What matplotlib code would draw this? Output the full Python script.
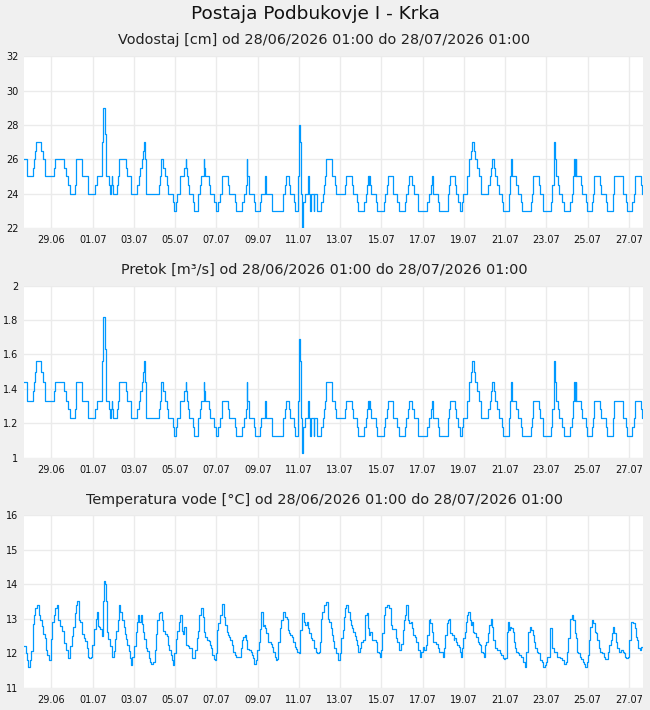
import numpy as np
import matplotlib
matplotlib.use('Agg')
import matplotlib.pyplot as plt

# hours since 28/06/2026 01:00 -> water level [cm] (step changes)
level_steps = [
    (0, 26), (3, 25.5), (4, 25), (11, 25.5), (12, 26), (13, 26.5), (14, 27), (20, 26.5), (22, 26), (25, 25),
    (35, 25.5), (36, 26), (47, 25.5), (49, 25), (51, 24.5), (53, 24), (59, 24.5), (60, 25), (61, 26), (67, 25.5),
    (68, 25), (75, 24), (83, 24.5), (85, 25), (91, 27), (92, 29), (94, 27.5), (95, 26), (96, 25), (99, 24.5),
    (100, 24), (101, 24.5), (102, 25), (103, 24.5), (104, 24), (108, 24.5), (109, 25), (110, 26), (119, 25.5),
    (120, 25), (125, 24), (132, 24.5), (134, 25), (135, 25.5), (137, 26), (139, 26.5), (140, 27), (141, 26),
    (142, 24), (157, 24.5), (158, 25), (160, 26), (162, 25.5), (164, 25), (167, 24.5), (168, 24), (174, 23.5),
    (175, 23), (177, 23.5), (178, 24), (182, 25), (186, 25.5), (188, 26), (189, 25.5), (190, 25), (191, 24.5),
    (192, 24), (197, 23.5), (198, 23), (202, 23.5), (203, 24), (205, 24.5), (206, 25), (209, 26), (210, 25.5),
    (211, 25), (215, 24.5), (216, 24), (221, 23.5), (223, 23), (226, 23.5), (228, 24), (230, 25), (238, 24.5),
    (239, 24), (245, 23.5), (247, 23), (254, 23.5), (256, 24), (258, 24.5), (259, 26), (260, 25), (262, 24),
    (268, 23.5), (269, 23), (275, 23.5), (276, 24), (280, 24.5), (281, 25), (282, 24), (289, 23), (301, 23.5),
    (302, 24), (304, 24.5), (305, 25), (309, 24.5), (310, 24), (314, 23.5), (315, 23), (319, 25), (320, 28),
    (321, 27), (322, 24), (323, 22), (325, 23.5), (327, 24), (330, 24.5), (331, 25), (332, 24), (333, 23),
    (334, 24), (337, 23), (338, 24), (341, 23), (346, 23.5), (348, 24), (349, 24.5), (350, 25), (352, 26),
    (358, 25.5), (359, 25), (362, 24.5), (363, 24), (374, 24.5), (375, 25), (382, 24.5), (383, 24), (388, 23.5),
    (389, 23), (396, 23.5), (398, 24), (399, 24.5), (400, 25), (401, 24.5), (402, 25), (403, 24.5), (404, 24),
    (410, 23.5), (411, 23), (419, 23.5), (420, 24), (422, 24.5), (424, 25), (429, 24.5), (430, 24), (434, 23.5),
    (436, 23), (443, 23.5), (445, 24), (447, 24.5), (448, 25), (452, 24.5), (454, 24), (458, 23.5), (459, 23),
    (469, 23.5), (471, 24), (474, 24.5), (475, 25), (476, 24), (482, 23.5), (483, 23), (493, 23.5), (494, 24),
    (495, 24.5), (496, 25), (502, 24.5), (503, 24), (505, 23.5), (507, 23), (510, 23.5), (511, 24), (515, 24.5),
    (516, 25), (518, 26), (520, 26.5), (521, 27), (524, 26.5), (525, 26), (527, 25.5), (529, 25), (532, 24),
    (540, 24.5), (542, 25), (544, 25.5), (545, 26), (547, 25.5), (548, 25), (551, 24.5), (553, 24), (556, 23.5),
    (558, 23), (564, 23.5), (565, 24), (566, 25), (567, 26), (568, 25), (573, 24.5), (575, 24), (579, 23.5),
    (580, 23), (590, 23.5), (591, 24), (592, 25), (599, 24.5), (600, 24), (604, 23), (613, 23.5), (614, 24),
    (615, 24.5), (617, 27), (618, 26), (619, 25), (622, 24.5), (623, 24), (626, 23.5), (628, 23), (636, 23.5),
    (638, 24), (639, 25), (640, 26), (641, 25), (642, 26), (643, 25), (648, 24.5), (649, 24), (654, 23.5),
    (655, 23), (661, 23.5), (662, 24), (663, 25), (670, 24.5), (672, 24), (677, 23.5), (678, 23), (686, 24),
    (687, 25), (697, 24), (701, 23.5), (702, 23), (708, 23.5), (710, 24), (711, 25), (718, 24.5), (719, 24),
]

# rating: level [cm] -> flow [m3/s]
rating_level = [22, 22.5, 23, 23.5, 24, 24.5, 25, 25.5, 26, 26.5, 27, 27.5, 28, 29]
rating_flow = [1.03, 1.08, 1.125, 1.18, 1.23, 1.28, 1.33, 1.385, 1.44, 1.50, 1.56, 1.63, 1.69, 1.82]

# hours since start -> water temperature [°C]
temp_points = [
    (0, 12.2), (2, 12.0), (4, 11.8), (5, 11.6), (7, 11.8), (8, 12.05), (10, 12.85), (12, 13.1), (13, 13.3),
    (15, 13.4), (18, 13.1), (19, 12.95), (21, 12.8), (22, 12.55), (24, 12.45), (26, 12.1), (27, 11.95),
    (29, 11.8), (31, 11.8), (32, 12.4), (33, 12.9), (35, 13.1), (36, 13.3), (39, 13.4), (40, 12.95), (42, 12.8),
    (44, 12.65), (46, 12.5), (47, 12.3), (49, 12.1), (51, 11.85), (53, 12.0), (54, 12.2), (56, 12.5), (57, 12.75),
    (59, 13.15), (60, 13.4), (62, 13.5), (64, 12.95), (65, 12.9), (67, 12.7), (68, 12.55), (70, 12.45),
    (71, 12.35), (73, 12.15), (74, 11.9), (76, 11.85), (78, 11.9), (79, 12.25), (81, 12.5), (82, 12.7),
    (84, 13.0), (85, 13.2), (86, 12.8), (87, 12.75), (88, 12.7), (90, 12.7), (91, 12.5), (92, 13.5), (93, 14.1),
    (94, 14.0), (95, 13.5), (97, 12.6), (98, 12.4), (100, 12.2), (102, 12.0), (103, 11.9), (105, 12.05),
    (106, 12.4), (107, 12.65), (109, 12.95), (110, 13.2), (111, 13.4), (112, 13.2), (114, 12.95), (116, 12.75),
    (117, 12.55), (119, 12.4), (120, 12.25), (122, 12.05), (123, 11.85), (125, 11.65), (126, 11.9), (128, 12.2),
    (130, 12.6), (131, 12.9), (133, 13.1), (134, 12.9), (136, 13.1), (137, 12.85), (139, 12.6), (140, 12.4),
    (142, 12.15), (143, 12.05), (145, 11.85), (147, 11.75), (148, 11.7), (150, 11.75), (152, 12.1), (154, 12.55),
    (155, 12.95), (157, 13.15), (158, 13.2), (161, 12.95), (162, 12.65), (164, 12.55), (166, 12.5), (168, 12.25),
    (169, 12.1), (171, 11.95), (172, 11.8), (174, 11.65), (175, 12.0), (177, 12.4), (178, 12.65), (180, 12.9),
    (181, 13.05), (182, 13.1), (184, 12.65), (185, 12.55), (186, 12.75), (188, 12.5), (189, 12.25), (191, 12.2),
    (192, 12.15), (195, 12.1), (196, 11.85), (198, 11.85), (199, 12.1), (201, 12.45), (202, 12.65), (204, 13.1),
    (206, 13.3), (208, 13.05), (209, 12.62), (211, 12.48), (213, 12.38), (215, 12.35), (216, 12.24),
    (218, 12.16), (219, 11.95), (221, 11.83), (222, 11.8), (223, 12.0), (225, 12.67), (226, 12.86), (228, 13.1),
    (230, 13.3), (231, 13.42), (233, 13.06), (234, 12.81), (236, 12.62), (237, 12.52), (239, 12.48),
    (240, 12.38), (242, 12.24), (243, 12.04), (245, 11.95), (247, 11.9), (251, 11.9), (252, 12.14), (254, 12.38),
    (255, 12.48), (257, 12.52), (258, 12.38), (260, 12.12), (262, 12.09), (264, 12.04), (265, 11.95),
    (267, 11.85), (268, 11.68), (270, 11.8), (271, 12.09), (273, 12.33), (275, 12.7), (276, 13.2), (278, 12.8),
    (279, 12.81), (281, 12.72), (282, 12.57), (284, 12.33), (285, 12.31), (287, 12.28), (289, 12.19),
    (290, 12.04), (292, 11.9), (293, 11.8), (295, 11.83), (296, 12.33), (298, 12.72), (299, 12.96), (301, 13.0),
    (302, 13.2), (304, 13.06), (306, 13.0), (307, 12.67), (309, 12.57), (310, 12.52), (312, 12.48), (313, 12.33),
    (315, 12.19), (316, 12.12), (318, 12.04), (320, 12.0), (321, 12.67), (323, 13.0), (324, 13.15), (326, 12.91),
    (327, 12.81), (329, 12.91), (330, 12.72), (332, 12.57), (334, 12.43), (335, 12.38), (337, 12.24),
    (338, 12.14), (340, 12.04), (341, 12.0), (343, 12.04), (344, 12.33), (346, 13.0), (347, 13.2), (349, 13.39),
    (351, 13.44), (352, 13.49), (354, 13.0), (355, 12.91), (357, 12.72), (358, 12.52), (360, 12.35),
    (361, 12.14), (363, 12.0), (365, 11.85), (366, 11.8), (368, 12.0), (369, 12.43), (371, 12.67), (372, 13.06),
    (374, 13.3), (375, 13.39), (377, 13.2), (379, 12.96), (380, 12.81), (382, 12.72), (383, 12.62), (385, 12.5),
    (386, 12.38), (388, 12.24), (389, 12.04), (391, 12.14), (392, 12.33), (394, 12.38), (396, 12.38),
    (397, 13.1), (399, 13.15), (400, 12.72), (402, 12.52), (403, 12.62), (405, 12.38), (408, 12.38),
    (410, 12.33), (411, 12.04), (413, 12.0), (414, 11.9), (416, 12.09), (417, 12.57), (419, 13.1), (420, 13.35),
    (422, 13.39), (424, 13.39), (425, 13.3), (427, 12.81), (428, 12.7), (431, 12.7), (433, 12.43), (434, 12.33),
    (436, 12.28), (437, 12.09), (439, 12.28), (441, 12.67), (442, 12.96), (444, 13.1), (445, 13.39),
    (447, 12.96), (448, 12.86), (450, 12.91), (451, 12.72), (453, 12.52), (455, 12.48), (456, 12.33),
    (458, 12.28), (459, 12.09), (461, 11.9), (462, 12.04), (464, 12.19), (465, 12.09), (468, 12.24),
    (469, 12.52), (471, 12.96), (472, 13.0), (473, 12.86), (475, 12.62), (476, 12.33), (479, 12.33),
    (480, 12.28), (482, 12.14), (483, 12.04), (486, 12.02), (488, 11.9), (489, 12.14), (490, 12.52),
    (492, 12.86), (493, 12.96), (495, 13.0), (496, 12.57), (498, 12.52), (500, 12.38), (501, 12.43),
    (503, 12.31), (504, 12.24), (506, 12.19), (507, 12.04), (509, 11.9), (510, 12.14), (511, 12.43),
    (513, 12.62), (514, 12.91), (516, 13.1), (517, 13.2), (519, 12.96), (520, 12.81), (521, 12.91), (523, 12.62),
    (524, 12.57), (526, 12.48), (528, 12.33), (529, 12.28), (531, 12.24), (532, 12.04), (534, 12.0), (535, 11.9),
    (537, 12.24), (538, 12.33), (540, 12.57), (541, 12.81), (543, 13.0), (545, 12.77), (546, 12.38),
    (548, 12.14), (551, 12.09), (554, 12.0), (555, 11.95), (557, 11.85), (559, 11.83), (560, 11.85),
    (562, 12.62), (563, 12.91), (564, 12.67), (566, 12.77), (567, 12.72), (569, 12.62), (570, 12.33),
    (572, 12.14), (573, 12.04), (575, 12.0), (576, 11.95), (578, 11.9), (580, 11.9), (581, 11.75), (583, 11.61),
    (584, 12.04), (586, 12.33), (587, 12.62), (589, 12.77), (590, 12.67), (592, 12.52), (593, 12.33),
    (595, 12.14), (597, 12.04), (598, 12.0), (600, 11.9), (601, 11.8), (603, 11.75), (604, 11.61), (606, 11.66),
    (607, 11.75), (609, 11.9), (610, 11.9), (612, 12.72), (614, 12.38), (615, 12.14), (617, 12.04), (618, 12.04),
    (620, 11.9), (623, 11.9), (624, 11.85), (626, 11.8), (628, 11.7), (629, 11.68), (631, 11.75), (632, 12.04),
    (633, 12.43), (635, 12.81), (636, 13.0), (638, 13.1), (639, 12.96), (641, 12.57), (642, 12.43), (644, 12.04),
    (645, 12.0), (647, 11.9), (648, 11.83), (650, 11.75), (652, 11.7), (653, 11.61), (655, 11.75), (656, 11.95),
    (658, 12.38), (659, 12.77), (661, 12.96), (662, 12.86), (664, 12.62), (666, 12.57), (667, 12.38),
    (669, 12.14), (670, 12.04), (673, 12.0), (675, 11.9), (676, 11.83), (678, 11.83), (680, 12.04), (681, 12.24),
    (683, 12.38), (684, 12.57), (686, 12.77), (687, 12.57), (689, 12.33), (690, 12.14), (692, 12.04),
    (695, 12.09), (697, 12.04), (698, 12.0), (700, 11.9), (701, 11.85), (703, 11.9), (704, 12.38), (706, 12.81),
    (707, 12.91), (709, 12.86), (711, 12.72), (712, 12.48), (714, 12.38), (715, 12.14), (717, 12.09),
    (718, 12.19), (720, 12.14),
]

tick_labels = ['29.06', '01.07', '03.07', '05.07', '07.07', '09.07', '11.07', '13.07',
               '15.07', '17.07', '19.07', '21.07', '23.07', '25.07', '27.07']
total_hours = 720
first_tick = 32   # 29.06 gridline, hours from start

title = 'Postaja Podbukovje I - Krka'
period = 'od 28/06/2026 01:00 do 28/07/2026 01:00'

bg = '#f0f0f0'
line_col = '#0099ff'
grid_col = '#ebebeb'

lh = np.array([p[0] for p in level_steps] + [total_hours], dtype=float)
lv = np.array([p[1] for p in level_steps] + [level_steps[-1][1]], dtype=float)
fv = np.interp(lv, rating_level, rating_flow)
th = np.array([p[0] for p in temp_points], dtype=float)
tv = np.array([p[1] for p in temp_points], dtype=float)

fig = plt.figure(figsize=(6.5, 7.1), dpi=100, facecolor=bg)

fig.text(0.486, 0.980, title, ha='center', va='center', fontsize=13.3, color='#111111')

panels = [
    (0.6789, 0.2418, 'Vodostaj [cm] ' + period, 0.9437, lh, lv,
     [22, 24, 26, 28, 30, 32], ['22', '24', '26', '28', '30', '32']),
    (0.3554, 0.2423, 'Pretok [m³/s] ' + period, 0.6197, lh, fv,
     [1, 1.2, 1.4, 1.6, 1.8, 2], ['1', '1.2', '1.4', '1.6', '1.8', '2']),
    (0.0314, 0.2432, 'Temperatura vode [°C] ' + period, 0.2958, th, tv,
     [11, 12, 13, 14, 15, 16], ['11', '12', '13', '14', '15', '16']),
]

ticks = [first_tick + 48 * i for i in range(len(tick_labels))]

for bottom, height, sub, sub_y, x, y, yt, ytl in panels:
    fig.text(0.499, sub_y, sub, ha='center', va='center', fontsize=10.4, color='#222222')
    ax = fig.add_axes([0.0369, bottom, 0.9518, height])
    ax.set_facecolor('white')
    ax.plot(x, y, color=line_col, lw=0.9, drawstyle='steps-post')
    ax.set_xlim(0, total_hours)
    ax.set_ylim(yt[0], yt[-1])
    ax.set_xticks(ticks)
    ax.set_xticklabels(tick_labels)
    ax.set_yticks(yt)
    ax.set_yticklabels(ytl)
    ax.grid(True, color=grid_col, lw=1.0)
    ax.set_axisbelow(True)
    for s in ax.spines.values():
        s.set_visible(False)
    ax.tick_params(axis='both', length=0, labelsize=7, colors='#111111')
    ax.tick_params(axis='x', pad=5)
    ax.tick_params(axis='y', pad=4)

fig.savefig('out.png', dpi=100, facecolor=bg)
